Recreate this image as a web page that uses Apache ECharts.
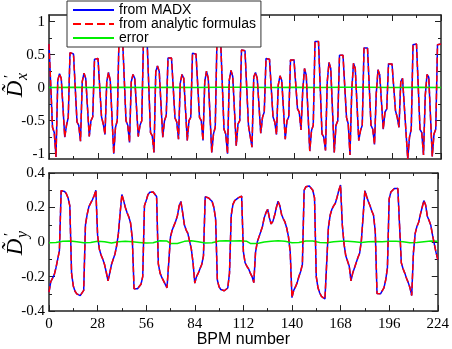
<!DOCTYPE html>
<html><head><meta charset="utf-8">
<script src="https://cdn.jsdelivr.net/npm/echarts@6/dist/echarts.min.js"></script>
<style>html,body{margin:0;padding:0;background:#fff}#c{width:452px;height:349px}</style>
</head><body><div id="c"></div><script>
// ---- top panel (D'x) ----
const dxBpm = [0,1,2,3,4,5,
6,7,9,10,11,12,13,14,15,16,17,18,19,
20,21,23,24,25,26,27,28,29,30,31,32,33,
34,35,37,38,39,40,41,42,43,44,45,46,47,
48,49,51,52,53,54,55,56,57,58,59,60,61,
62,63,65,66,67,68,69,70,71,72,73,74,75,
76,77,79,80,81,82,83,84,85,86,87,88,89,
90,91,93,94,95,96,97,98,99,100,101,102,103,
104,105,107,108,109,110,111,112,113,114,115,116,117,
118,119,121,122,123,124,125,126,127,128,129,130,131,
132,133,135,136,137,138,139,140,141,142,143,144,145,
146,147,149,150,151,152,153,154,155,156,157,158,159,
160,161,163,164,165,166,167,168,169,170,171,172,173,
174,175,177,178,179,180,181,182,183,184,185,186,187,
188,189,191,192,193,194,195,196,197,198,199,200,201,
202,203,205,206,207,208,209,210,211,212,213,214,215,
216,217,219,220,221,222,223,224];
const dxMadx = [0.66,0.63,-0.60,-0.68,-1.05,0.11,
0.21,0.14,-0.75,-0.57,-0.45,0.53,0.52,0.51,0.49,-0.52,-0.57,-0.81,0.09,
0.22,0.14,-0.74,-0.50,-0.44,0.43,0.44,0.44,0.43,-0.44,-0.55,-0.71,0.09,
0.23,0.11,-1.00,-0.60,-0.50,0.76,0.77,0.77,0.75,-0.50,-0.57,-0.83,0.09,
0.20,0.14,-0.74,-0.57,-0.50,0.74,0.75,0.75,0.73,-0.68,-0.73,-0.98,0.24,
0.33,0.24,-0.75,-0.50,-0.42,0.45,0.45,0.45,0.44,-0.46,-0.52,-0.78,0.07,
0.20,0.14,-0.80,-0.50,-0.45,0.52,0.52,0.51,0.50,-0.45,-0.50,-0.80,0.09,
0.25,0.14,-0.98,-0.70,-0.60,0.76,0.77,0.77,0.75,-0.63,-0.70,-1.00,0.11,
0.26,0.17,-0.88,-0.55,-0.50,0.57,0.57,0.56,0.55,-0.58,-0.61,-0.90,0.16,
0.23,0.14,-0.69,-0.45,-0.37,0.44,0.44,0.43,0.42,-0.44,-0.52,-0.71,0.04,
0.18,0.11,-0.78,-0.50,-0.44,0.42,0.43,0.42,0.41,-0.32,-0.37,-0.64,-0.04,
0.29,0.19,-0.96,-0.65,-0.57,0.70,0.71,0.70,0.69,-0.70,-0.75,-0.95,0.09,
0.38,0.29,-0.98,-0.57,-0.50,0.49,0.50,0.49,0.48,-0.45,-0.55,-1.02,-0.04,
0.37,0.29,-0.80,-0.65,-0.57,0.60,0.61,0.60,0.59,-0.57,-0.63,-0.86,-0.09,
0.27,0.19,-0.63,-0.37,-0.32,0.36,0.37,0.36,0.35,-0.35,-0.45,-0.60,0.09,
0.14,0.13,-1.08,-0.75,-0.63,0.65,0.66,0.66,0.64,-0.63,-0.68,-1.02,-0.12,
0.20,0.16,-1.04,-0.70,-0.63,0.65,0.66,0.66];
const dxAnalytic = [0.66,0.63,-0.60,-0.68,-1.05,0.11,
0.21,0.14,-0.75,-0.57,-0.45,0.53,0.52,0.51,0.49,-0.52,-0.57,-0.81,0.09,
0.22,0.14,-0.74,-0.50,-0.44,0.43,0.44,0.44,0.43,-0.44,-0.55,-0.71,0.09,
0.23,0.11,-1.00,-0.60,-0.50,0.76,0.77,0.77,0.75,-0.50,-0.57,-0.83,0.09,
0.20,0.14,-0.74,-0.57,-0.50,0.74,0.75,0.75,0.73,-0.68,-0.73,-0.98,0.24,
0.33,0.24,-0.75,-0.50,-0.42,0.45,0.45,0.45,0.44,-0.46,-0.52,-0.78,0.07,
0.20,0.14,-0.80,-0.50,-0.45,0.52,0.52,0.51,0.50,-0.45,-0.50,-0.80,0.09,
0.25,0.14,-0.98,-0.70,-0.60,0.76,0.77,0.77,0.75,-0.63,-0.70,-1.00,0.11,
0.26,0.17,-0.88,-0.55,-0.50,0.57,0.57,0.56,0.55,-0.58,-0.61,-0.90,0.16,
0.23,0.14,-0.69,-0.45,-0.37,0.44,0.44,0.43,0.42,-0.44,-0.52,-0.71,0.04,
0.18,0.11,-0.78,-0.50,-0.44,0.42,0.43,0.42,0.41,-0.32,-0.37,-0.64,-0.04,
0.29,0.19,-0.96,-0.65,-0.57,0.70,0.71,0.70,0.69,-0.70,-0.75,-0.95,0.09,
0.38,0.29,-0.98,-0.57,-0.50,0.49,0.50,0.49,0.48,-0.45,-0.55,-1.02,-0.04,
0.37,0.29,-0.80,-0.65,-0.57,0.60,0.61,0.60,0.59,-0.57,-0.63,-0.86,-0.09,
0.27,0.19,-0.63,-0.37,-0.32,0.36,0.37,0.36,0.35,-0.35,-0.45,-0.60,0.09,
0.14,0.13,-1.08,-0.75,-0.63,0.65,0.66,0.66,0.64,-0.63,-0.68,-1.02,-0.12,
0.20,0.16,-1.04,-0.70,-0.63,0.65,0.66,0.66];
const dxErrBpm = [0,14,28,42,56,70,84,98,112,126,140,154,168,182,196,210,224];
const dxErr = [0.004,0.005,0.004,0.006,0.004,0.005,0.004,0.006,0.005,0.004,0.005,0.004,0.006,0.005,0.004,0.005,0.004];

// ---- bottom panel (D'y), one value per BPM 0..224 ----
const dyMadx = [-0.29,-0.23,-0.21,-0.19,-0.15,-0.10,-0.05,0.298,0.30,0.293,
0.28,0.255,0.21,-0.18,-0.255,-0.285,-0.30,-0.305,-0.31,-0.30,
-0.28,0.10,0.16,0.205,0.225,0.245,0.268,0.30,0.04,-0.04,
-0.075,-0.10,-0.13,-0.175,-0.225,-0.18,-0.13,-0.10,-0.07,-0.02,
0.05,0.17,0.275,0.24,0.20,0.17,0.145,0.11,0.02,-0.27,
-0.272,-0.27,-0.265,-0.245,-0.20,0.21,0.24,0.274,0.288,0.292,
0.29,0.287,0.264,-0.127,-0.18,-0.205,-0.225,-0.245,-0.265,-0.272,
0.03,0.07,0.095,0.12,0.153,0.21,0.235,0.17,0.10,0.07,
0.05,0.005,-0.04,-0.12,-0.238,-0.20,-0.18,-0.155,-0.13,-0.08,
0.262,0.26,0.255,0.245,0.235,0.20,0.135,-0.22,-0.26,-0.275,
-0.28,-0.282,-0.28,-0.266,-0.18,0.155,0.218,0.24,0.25,0.256,
0.26,0.266,-0.055,-0.12,-0.14,-0.155,-0.18,-0.20,-0.235,-0.06,
0.00,0.03,0.06,0.09,0.14,0.17,0.19,0.14,0.105,0.12,
0.155,0.20,0.236,0.21,0.16,0.135,0.115,0.08,0.03,-0.06,
-0.322,-0.28,-0.26,-0.235,-0.20,-0.17,-0.13,0.30,0.32,0.325,
0.325,0.32,0.30,0.255,-0.20,-0.265,-0.295,-0.315,-0.322,-0.33,
-0.33,0.085,0.155,0.19,0.21,0.225,0.26,0.30,0.33,0.10,
-0.01,-0.08,-0.11,-0.14,-0.225,-0.18,-0.15,-0.12,-0.09,-0.065,
0.01,0.15,0.298,0.265,0.235,0.21,0.18,0.155,0.06,-0.298,
-0.302,-0.30,-0.29,-0.265,-0.22,-0.15,0.25,0.29,0.298,0.31,
0.31,0.31,0.30,-0.12,-0.155,-0.18,-0.21,-0.235,-0.265,-0.31,
-0.06,0.05,0.09,0.115,0.16,0.20,0.24,0.215,0.15,0.125,
0.097,0.04,-0.01,-0.06,-0.10];
const dyAnalytic = [-0.29,-0.23,-0.21,-0.19,-0.15,-0.10,-0.05,0.298,0.30,0.293,
0.28,0.255,0.21,-0.18,-0.255,-0.285,-0.30,-0.305,-0.31,-0.30,
-0.28,0.10,0.16,0.205,0.225,0.245,0.268,0.30,0.04,-0.04,
-0.075,-0.10,-0.13,-0.175,-0.225,-0.18,-0.13,-0.10,-0.07,-0.02,
0.05,0.17,0.275,0.24,0.20,0.17,0.145,0.11,0.02,-0.27,
-0.272,-0.27,-0.265,-0.245,-0.20,0.21,0.24,0.274,0.288,0.292,
0.29,0.287,0.264,-0.127,-0.18,-0.205,-0.225,-0.245,-0.265,-0.272,
0.03,0.07,0.095,0.12,0.153,0.21,0.235,0.17,0.10,0.07,
0.05,0.005,-0.04,-0.12,-0.238,-0.20,-0.18,-0.155,-0.13,-0.08,
0.262,0.26,0.255,0.245,0.235,0.20,0.135,-0.22,-0.26,-0.275,
-0.28,-0.282,-0.28,-0.266,-0.18,0.155,0.218,0.24,0.25,0.256,
0.26,0.266,-0.055,-0.12,-0.14,-0.155,-0.18,-0.20,-0.235,-0.06,
0.00,0.03,0.06,0.09,0.14,0.17,0.19,0.14,0.105,0.12,
0.155,0.20,0.236,0.21,0.16,0.135,0.115,0.08,0.03,-0.06,
-0.322,-0.28,-0.26,-0.235,-0.20,-0.17,-0.13,0.30,0.32,0.325,
0.325,0.32,0.30,0.255,-0.20,-0.265,-0.295,-0.315,-0.322,-0.33,
-0.33,0.085,0.155,0.19,0.21,0.225,0.26,0.30,0.33,0.10,
-0.01,-0.08,-0.11,-0.14,-0.225,-0.18,-0.15,-0.12,-0.09,-0.065,
0.01,0.15,0.298,0.265,0.235,0.21,0.18,0.155,0.06,-0.298,
-0.302,-0.30,-0.29,-0.265,-0.22,-0.15,0.25,0.29,0.298,0.31,
0.31,0.31,0.30,-0.12,-0.155,-0.18,-0.21,-0.235,-0.265,-0.31,
-0.06,0.05,0.09,0.115,0.16,0.20,0.24,0.215,0.15,0.125,
0.097,0.04,-0.01,-0.06,-0.10];
const dyBpm = Array.from({length: dyMadx.length}, (_, i) => i);
const dyErrBpm = [0,4,8,12,16,20,24,28,32,36,40,44,48,52,56,60,64,68,70,74,78,82,86,90,94,98,102,106,110,114,116,120,124,128,132,136,140,144,148,152,156,160,164,168,172,176,180,184,188,192,196,200,204,208,212,216,220,224];
const dyErr = [-0.004,-0.002,0.004,0.006,0.002,-0.004,-0.002,0.004,0.002,-0.006,0.002,0.004,0.002,-0.002,-0.006,-0.004,0.008,0.006,-0.008,-0.008,0.004,0.008,0.002,-0.006,-0.004,0.006,0.008,0.006,0.008,0.004,-0.008,-0.008,0.0,0.004,0.007,0.004,-0.004,-0.003,0.006,0.006,-0.002,-0.004,0.002,0.004,0.004,0.002,-0.002,0.002,0.003,0.002,0.004,0.004,0.002,-0.004,-0.003,0.002,0.006,0.004];

const xTicks = [0,28,56,84,112,140,168,196,224];
const dxTickLabels = [-1,-0.5,0,0.5,1];
const dxMinor = [-0.75,-0.25,0.25,0.75];
const seriesNames = ['from MADX','from analytic formulas','error'];

const pairs = (xs, ys) => xs.map((x, i) => [x, ys[i]]);
const FRAME = '#222';
const serif = 'Liberation Serif';

function xAx(grid, pos, labels) {
  return {
    type:'value', gridIndex:grid, position:pos, min:0, max:224, interval:28,
    axisLine:{show:true, onZero:false, lineStyle:{color:FRAME, width:1.5}},
    axisTick:{show:true, inside:true, length:6, lineStyle:{color:FRAME, width:1}},
    minorTick:{show:true, splitNumber:2, length:3, lineStyle:{color:FRAME, width:1}},
    splitLine:{show:false}, minorSplitLine:{show:false},
    axisLabel:{show:labels, margin:5, fontFamily:serif, fontSize:15, color:'#000'},
    name: labels ? 'BPM number' : '', nameLocation:'middle', nameGap:17,
    nameTextStyle:{fontFamily:'Liberation Sans', fontSize:16, color:'#000'}
  };
}
function yTop(pos, major) {
  return {
    type:'value', gridIndex:0, position:pos, min:-1.08, max:1.1,
    axisLine:{show:major, onZero:false, lineStyle:{color:FRAME, width:1.5}},
    axisTick:{show:true, inside:true, length: major ? 6 : 3, customValues: major ? dxTickLabels : dxMinor, lineStyle:{color:FRAME, width:1}},
    axisLabel:{show: major && pos === 'left', customValues: dxTickLabels, margin:4, fontFamily:serif, fontSize:15, color:'#000'},
    splitLine:{show:false}
  };
}
function yBot(pos) {
  return {
    type:'value', gridIndex:1, position:pos, min:-0.4, max:0.4, interval:0.2,
    axisLine:{show:true, onZero:false, lineStyle:{color:FRAME, width:1.5}},
    axisTick:{show:true, inside:true, length:6, lineStyle:{color:FRAME, width:1}},
    minorTick:{show:true, splitNumber:2, length:3, lineStyle:{color:FRAME, width:1}},
    axisLabel:{show: pos === 'left', margin:4, fontFamily:serif, fontSize:15, color:'#000'},
    splitLine:{show:false}, minorSplitLine:{show:false}
  };
}
function ln(name, color, type, xi, yi, data, w) {
  return {
    name, type:'line', xAxisIndex:xi, yAxisIndex:yi, data, symbol:'none', color,
    lineStyle:{color, width:w, type}, animation:false, z: type === 'dashed' ? 3 : 2
  };
}
function yTitle(x, y, sub) {
  return {
    type:'group', x, y, rotation:Math.PI/2, silent:true,
    children:[
      {type:'text', x:0, y:0, style:{text:'D\u0303', font:'italic 23px "Liberation Serif"', fill:'#000', align:'center', verticalAlign:'middle'}},
      {type:'text', x:11, y:-6, style:{text:'\u2032', font:'15px "Liberation Serif"', fill:'#000', align:'left', verticalAlign:'middle'}},
      {type:'text', x:9, y:7, style:{text:sub, font:'italic 16px "Liberation Serif"', fill:'#000', align:'left', verticalAlign:'middle'}}
    ]
  };
}

const chart = echarts.init(document.getElementById('c'), null, {renderer:'canvas'});
chart.setOption({
  animation:false,
  backgroundColor:'#fff',
  grid:[{left:49, top:15, width:392, height:144}, {left:49, top:173, width:392, height:144}],
  xAxis:[xAx(0,'bottom',false), xAx(0,'top',false), xAx(1,'bottom',true), xAx(1,'top',false)],
  yAxis:[yTop('left',true), yTop('right',true), yTop('left',false), yTop('right',false), yBot('left'), yBot('right')],
  legend:{
    orient:'vertical', left:67, top:1, data:seriesNames,
    backgroundColor:'#fff', borderColor:'#333', borderWidth:1, borderRadius:0,
    padding:[2,5,2,5], itemGap:0, itemWidth:41, itemHeight:14,
    itemStyle:{opacity:0},
    textStyle:{fontFamily:'Liberation Sans', fontSize:14, color:'#000', lineHeight:14}
  },
  graphic:[yTitle(16, 89, 'x'), yTitle(16, 247, 'y')],
  series:[
    ln(seriesNames[0], '#0000ff', 'solid', 0, 0, pairs(dxBpm, dxMadx), 1.5),
    ln(seriesNames[1], '#ff0000', 'dashed', 0, 0, pairs(dxBpm, dxAnalytic), 1.5),
    ln(seriesNames[2], '#00ee00', 'solid', 0, 0, pairs(dxErrBpm, dxErr), 1.5),
    ln(seriesNames[0], '#0000ff', 'solid', 2, 4, pairs(dyBpm, dyMadx), 1.5),
    ln(seriesNames[1], '#ff0000', 'dashed', 2, 4, pairs(dyBpm, dyAnalytic), 1.5),
    ln(seriesNames[2], '#00ee00', 'solid', 2, 4, pairs(dyErrBpm, dyErr), 1.5)
  ]
});
</script></body></html>
